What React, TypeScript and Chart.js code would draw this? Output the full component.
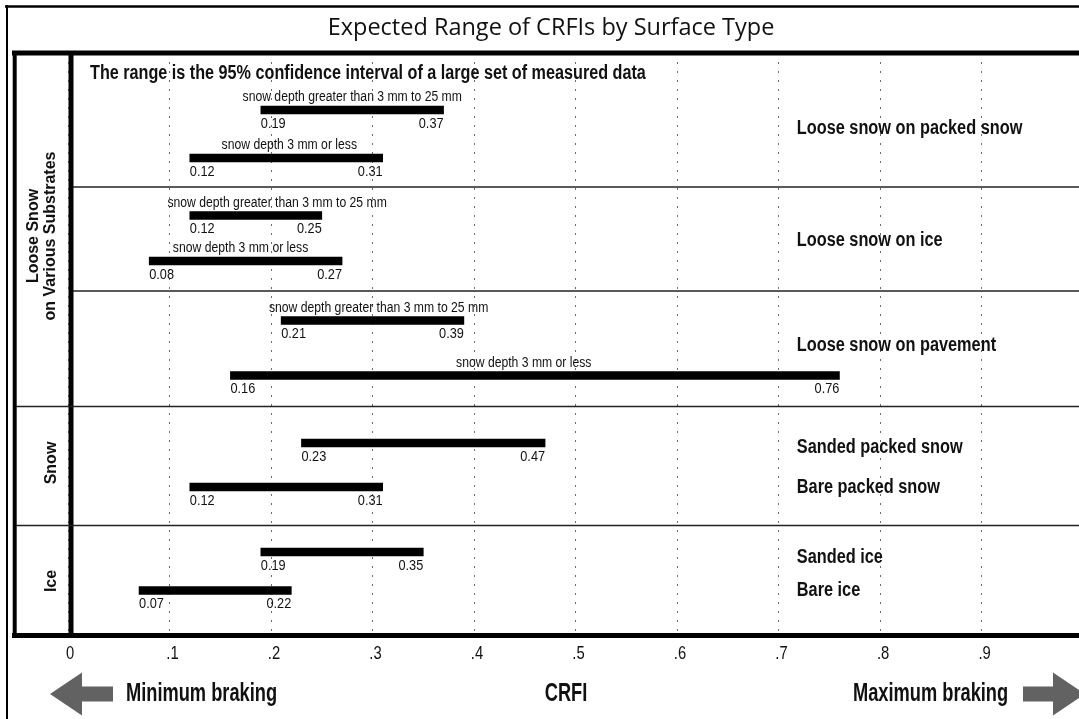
import React, { useEffect, useRef } from 'react';
import { Chart, registerables } from 'chart.js';

Chart.register(...registerables);

// ---------- data ----------
const chartTitle = 'Expected Range of CRFIs by Surface Type';
const noteText = 'The range is the 95% confidence interval of a large set of measured data';
const barLow = [0.19, 0.12, 0.12, 0.08, 0.21, 0.16, 0.23, 0.12, 0.19, 0.07];
const barHigh = [0.37, 0.31, 0.25, 0.27, 0.39, 0.76, 0.47, 0.31, 0.35, 0.22];
const barNotes = [
  'snow depth greater than 3 mm to 25 mm',
  'snow depth 3 mm or less',
  'snow depth greater than 3 mm to 25 mm',
  'snow depth 3 mm or less',
  'snow depth greater than 3 mm to 25 mm',
  'snow depth 3 mm or less',
  '', '', '', '',
];
const surfaceLabels = [
  'Loose snow on packed snow',
  'Loose snow on ice',
  'Loose snow on pavement',
  'Sanded packed snow',
  'Bare packed snow',
  'Sanded ice',
  'Bare ice',
];
const tickValues = [0, 0.1, 0.2, 0.3, 0.4, 0.5, 0.6, 0.7, 0.8, 0.9];
const tickLabels = ['0', '.1', '.2', '.3', '.4', '.5', '.6', '.7', '.8', '.9'];
const axisTitle = 'CRFI';
const minLabel = 'Minimum braking';
const maxLabel = 'Maximum braking';

// ---------- layout (row units: 10px each below the title rule) ----------
const BAR_ROW = [5.7, 10.5, 16.25, 20.8, 26.75, 32.25, 39.0, 43.4, 49.9, 53.75];
const NOTE_X = [0.28, 0.218, 0.206, 0.17, 0.306, 0.449];
const SURFACE_ROW = [7.5, 18.7, 29.2, 39.4, 43.4, 50.4, 53.7];
const SURFACE_X = 0.718;
const SEPARATORS = [
  { row: 13.4, full: false },
  { row: 23.8, full: false },
  { row: 35.35, full: true },
  { row: 47.25, full: true },
];

const FONT = '"Liberation Sans", Arial, sans-serif';
const INK = '#111';

function txt(
  ctx: CanvasRenderingContext2D,
  s: string,
  x: number,
  y: number,
  size: number,
  bold: boolean,
  align: CanvasTextAlign,
  sx: number,
  rot = 0,
  family = FONT,
  weight = '',
) {
  ctx.save();
  ctx.translate(x, y);
  if (rot) ctx.rotate(rot);
  ctx.scale(sx, 1);
  ctx.font = `${weight ? weight + ' ' : bold ? 'bold ' : ''}${size}px ${family}`;
  ctx.textAlign = align;
  ctx.textBaseline = 'middle';
  ctx.fillStyle = INK;
  ctx.fillText(s, 0, 0);
  ctx.restore();
}

function line(ctx: CanvasRenderingContext2D, x1: number, y1: number, x2: number, y2: number, w: number, c = '#000') {
  ctx.save();
  ctx.strokeStyle = c;
  ctx.lineWidth = w;
  ctx.beginPath();
  ctx.moveTo(x1, y1);
  ctx.lineTo(x2, y2);
  ctx.stroke();
  ctx.restore();
}

function arrow(ctx: CanvasRenderingContext2D, tipX: number, baseX: number, tailX: number, cy: number) {
  ctx.save();
  ctx.fillStyle = '#626262';
  ctx.beginPath();
  ctx.moveTo(tipX, cy);
  ctx.lineTo(baseX, cy - 21.5);
  ctx.lineTo(baseX, cy - 7.5);
  ctx.lineTo(tailX, cy - 7.5);
  ctx.lineTo(tailX, cy + 7.5);
  ctx.lineTo(baseX, cy + 7.5);
  ctx.lineTo(baseX, cy + 21.5);
  ctx.closePath();
  ctx.fill();
  ctx.restore();
}

const decorPlugin = {
  id: 'decor',
  beforeDraw(chart: any) {
    const ctx = chart.ctx;
    ctx.save();
    ctx.fillStyle = '#fff';
    ctx.fillRect(0, 0, chart.width, chart.height);
    ctx.restore();
  },
  afterDraw(chart: any) {
    const ctx: CanvasRenderingContext2D = chart.ctx;
    const xs = chart.scales.x;
    const ys = chart.scales.y;
    const W = chart.width;

    // frame
    line(ctx, 5, 6.5, W, 6.5, 2.5);
    line(ctx, 7, 5, 7, chart.height, 2);
    line(ctx, 12, 53, W, 53, 5);
    line(ctx, 14.7, 51, 14.7, 638, 4);
    line(ctx, 71, 51, 71, 638, 5);
    line(ctx, 12, 635.5, W, 635.5, 5);
    SEPARATORS.forEach((s) => {
      const y = ys.getPixelForValue(s.row);
      line(ctx, s.full ? 16 : 73, y, W, y, 1.6, '#222');
    });

    // title & note
    txt(ctx, chartTitle, 551, 28, 23.5, false, 'center', 1, 0, '"Open Sans", sans-serif', '500');
    txt(ctx, noteText, 90, 74, 19.5, true, 'left', 0.83);

    // bar annotations
    barLow.forEach((lo, i) => {
      const hi = barHigh[i];
      const yc = ys.getPixelForValue(BAR_ROW[i]);
      const x1 = xs.getPixelForValue(lo);
      const x2 = xs.getPixelForValue(hi);
      txt(ctx, lo.toFixed(2), x1, yc + 13.5, 14.5, false, 'left', 0.88);
      txt(ctx, hi.toFixed(2), x2, yc + 13.5, 14.5, false, 'right', 0.88);
      if (barNotes[i]) {
        txt(ctx, barNotes[i], xs.getPixelForValue(NOTE_X[i]), yc - 12.5, 14, false, 'center', 0.87);
      }
    });

    // surface labels
    surfaceLabels.forEach((s, i) => {
      txt(ctx, s, xs.getPixelForValue(SURFACE_X), ys.getPixelForValue(SURFACE_ROW[i]), 20, true, 'left', 0.815);
    });

    // group labels (rotated)
    txt(ctx, 'Loose Snow', 34, 236, 16, true, 'center', 1.0, -Math.PI / 2);
    txt(ctx, 'on Various Substrates', 51, 236, 16, true, 'center', 1.0, -Math.PI / 2);
    txt(ctx, 'Snow', 52, 463, 16, true, 'center', 1.0, -Math.PI / 2);
    txt(ctx, 'Ice', 52, 581, 16, true, 'center', 1.0, -Math.PI / 2);

    // tick labels
    xs.ticks.forEach((t: any) => {
      const idx = tickValues.findIndex((v) => Math.abs(v - t.value) < 1e-6);
      if (idx < 0) return;
      txt(ctx, tickLabels[idx], xs.getPixelForValue(t.value) + (idx === 0 ? 2 : 3), 654, 18.5, false, 'center', 0.8);
    });

    // bottom captions and arrows
    arrow(ctx, 50, 82, 113, 694);
    arrow(ctx, 1085, 1053, 1023, 694);
    txt(ctx, minLabel, 126, 694, 25, true, 'left', 0.73);
    txt(ctx, axisTitle, 566, 694, 25, true, 'center', 0.73);
    txt(ctx, maxLabel, 853, 694, 25, true, 'left', 0.73);
  },
};

export default function App() {
  const ref = useRef<HTMLCanvasElement | null>(null);

  useEffect(() => {
    document.body.style.margin = '0';
    const canvas = ref.current;
    if (!canvas) return;
    const chart = new Chart(canvas, {
      type: 'bar',
      data: {
        datasets: [
          {
            data: barLow.map((lo, i) => ({ x: [lo, barHigh[i]], y: BAR_ROW[i] })) as any,
            backgroundColor: '#000',
            borderWidth: 0,
            barThickness: 8,
          },
        ],
      },
      options: {
        animation: false,
        responsive: false,
        devicePixelRatio: 1,
        indexAxis: 'y',
        layout: { padding: { top: 53, left: 68, right: 0, bottom: 0 } },
        plugins: {
          legend: { display: false },
          tooltip: { enabled: false },
          title: { display: false },
        },
        scales: {
          x: {
            type: 'linear',
            position: 'bottom',
            min: 0,
            max: 0.996,
            afterFit: (scale: any) => {
              scale.height = 86;
            },
            ticks: { stepSize: 0.1, includeBounds: false, display: false },
            grid: { display: true, drawTicks: false, color: '#6a6a6a', lineWidth: 1 },
            border: { display: false, dash: [2, 7] },
          },
          y: {
            type: 'linear',
            min: 0,
            max: 58,
            reverse: true,
            offset: false,
            display: false,
            grid: { display: false },
          },
        },
      } as any,
      plugins: [decorPlugin],
    });
    return () => chart.destroy();
  }, []);

  return (
    <canvas
      ref={ref}
      width={1079}
      height={719}
      style={{ position: 'absolute', left: 0, top: 0, width: 1079, height: 719, display: 'block' }}
    />
  );
}
